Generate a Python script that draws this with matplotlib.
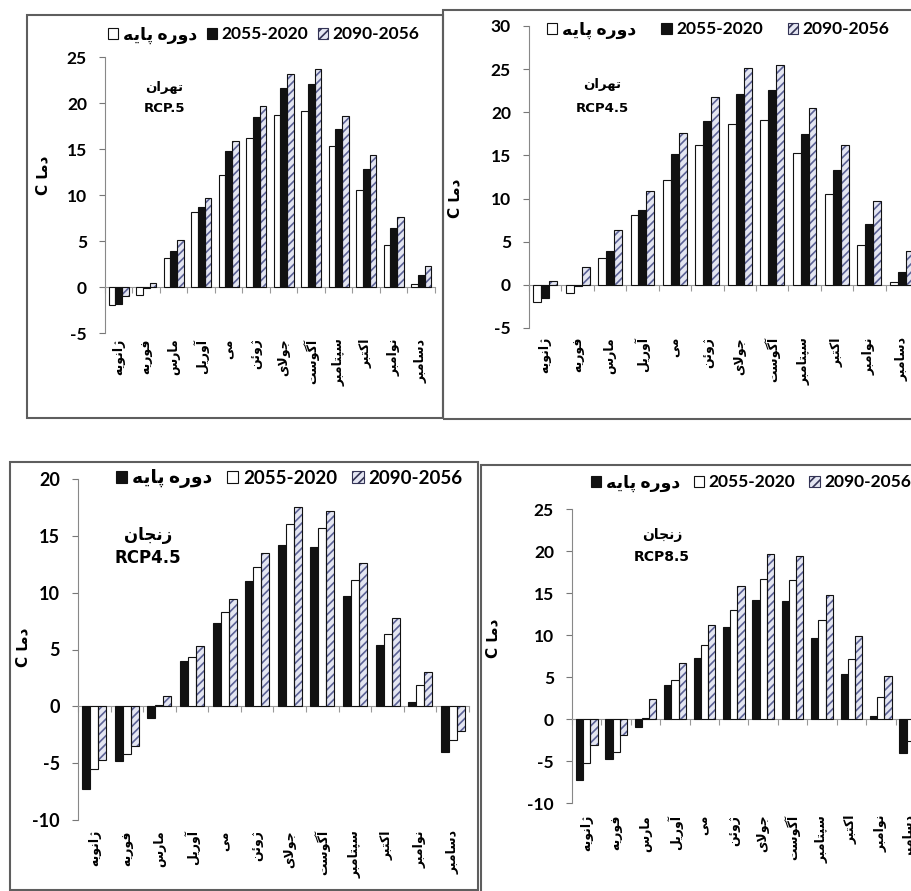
import numpy as np
import matplotlib
matplotlib.use("Agg")
import matplotlib.pyplot as plt
from matplotlib.patches import Patch, Rectangle

plt.rcParams['font.family'] = ['Lato', 'DejaVu Sans']
plt.rcParams['font.weight'] = 'bold'
plt.rcParams['hatch.linewidth'] = 1.2
plt.rcParams['axes.unicode_minus'] = False

# ---- data (monthly mean temperature, deg C) ----
months_fa = ['ژانویه', 'فوریه', 'مارس', 'آوریل', 'می', 'ژوئن',
             'جولای', 'آگوست', 'سپتامبر', 'اکتبر', 'نوامبر', 'دسامبر']
period_labels = ['دوره پایه', '2055-2020', '2090-2056']

tehran_base = [-2.0, -0.9, 3.1, 8.1, 12.2, 16.2, 18.7, 19.1, 15.3, 10.5, 4.6, 0.3]
tehran_rcp26_mid = [-1.9, -0.1, 3.9, 8.7, 14.8, 18.5, 21.6, 22.1, 17.2, 12.8, 6.4, 1.3]
tehran_rcp26_end = [-1.0, 0.4, 5.1, 9.7, 15.9, 19.7, 23.2, 23.7, 18.6, 14.3, 7.6, 2.3]
tehran_rcp45_mid = [-1.5, -0.1, 3.9, 8.7, 15.2, 19.0, 22.1, 22.6, 17.5, 13.3, 7.1, 1.5]
tehran_rcp45_end = [0.5, 2.1, 6.4, 10.9, 17.6, 21.8, 25.1, 25.5, 20.5, 16.2, 9.7, 3.9]

zanjan_base = [-7.3, -4.8, -1.0, 4.0, 7.3, 11.0, 14.2, 14.0, 9.7, 5.4, 0.4, -4.0]
zanjan_rcp45_mid = [-5.5, -4.2, 0.1, 4.3, 8.3, 12.3, 16.0, 15.7, 11.1, 6.4, 1.9, -3.0]
zanjan_rcp45_end = [-4.7, -3.5, 0.9, 5.3, 9.4, 13.5, 17.5, 17.2, 12.6, 7.8, 3.0, -2.2]
zanjan_rcp85_mid = [-5.2, -3.9, 0.1, 4.6, 8.8, 13.0, 16.7, 16.6, 11.8, 7.2, 2.6, -2.6]
zanjan_rcp85_end = [-3.1, -1.9, 2.4, 6.7, 11.2, 15.8, 19.6, 19.4, 14.8, 9.9, 5.1, -1.6]


# ---- persian shaping (matplotlib has no bidi / joining) ----
FORMS = {  # isolated, final, initial, medial
    'ا': ('\uFE8D', '\uFE8E', None, None),
    'آ': ('\uFE81', '\uFE82', None, None),
    'ب': ('\uFE8F', '\uFE90', '\uFE91', '\uFE92'),
    'پ': ('\uFB56', '\uFB57', '\uFB58', '\uFB59'),
    'ت': ('\uFE95', '\uFE96', '\uFE97', '\uFE98'),
    'ج': ('\uFE9D', '\uFE9E', '\uFE9F', '\uFEA0'),
    'د': ('\uFEA9', '\uFEAA', None, None),
    'ر': ('\uFEAD', '\uFEAE', None, None),
    'ز': ('\uFEAF', '\uFEB0', None, None),
    'ژ': ('\uFB8A', '\uFB8B', None, None),
    'س': ('\uFEB1', '\uFEB2', '\uFEB3', '\uFEB4'),
    'ف': ('\uFED1', '\uFED2', '\uFED3', '\uFED4'),
    'ک': ('\uFB8E', '\uFB8F', '\uFB90', '\uFB91'),
    'گ': ('\uFB92', '\uFB93', '\uFB94', '\uFB95'),
    'ل': ('\uFEDD', '\uFEDE', '\uFEDF', '\uFEE0'),
    'م': ('\uFEE1', '\uFEE2', '\uFEE3', '\uFEE4'),
    'ن': ('\uFEE5', '\uFEE6', '\uFEE7', '\uFEE8'),
    'ه': ('\uFEE9', '\uFEEA', '\uFEEB', '\uFEEC'),
    'و': ('\uFEED', '\uFEEE', None, None),
    'ی': ('\uFBFC', '\uFBFD', '\uFBFE', '\uFBFF'),
    'ئ': ('\uFE89', '\uFE8A', '\uFE8B', '\uFE8C'),
}
LAM_ALEF = ('\uFEFB', '\uFEFC')


def fa(s):
    if not any(c in FORMS for c in s):
        return s
    out = []
    prev_joins = False
    i = 0
    while i < len(s):
        c = s[i]
        if c not in FORMS:
            out.append(c)
            prev_joins = False
            i += 1
            continue
        if c == 'ل' and i + 1 < len(s) and s[i + 1] == 'ا':
            out.append(LAM_ALEF[1] if prev_joins else LAM_ALEF[0])
            prev_joins = False
            i += 2
            continue
        nxt = s[i + 1] if i + 1 < len(s) else None
        next_ok = FORMS[c][2] is not None and nxt in FORMS
        iso, fin, ini, med = FORMS[c]
        if prev_joins and next_ok:
            out.append(med)
        elif prev_joins:
            out.append(fin)
        elif next_ok:
            out.append(ini)
        else:
            out.append(iso)
        prev_joins = next_ok
        i += 1
    return ''.join(reversed(out))


W, H = 912, 891
fig = plt.figure(figsize=(W / 100, H / 100), dpi=100)
fig.patch.set_facecolor('white')


def px_axes(left, top, right, bottom):
    return fig.add_axes([left / W, 1 - bottom / H, (right - left) / W, (bottom - top) / H])


def frame(x0, y0, x1, y1):
    fig.patches.append(Rectangle((x0 / W, 1 - y1 / H), (x1 - x0) / W, (y1 - y0) / H,
                                 transform=fig.transFigure, fill=False,
                                 edgecolor='#5e5e5e', linewidth=1.5))


WHITE = dict(facecolor='white', edgecolor='#111111', linewidth=0.8)
BLACK = dict(facecolor='#111111', edgecolor='#111111', linewidth=0.8)
HATCH = dict(facecolor='#e4e6f2', edgecolor='#5c6296', linewidth=0, hatch='////')


def panel(box, series, styles, ylim, ystep, city, rcp, txt_pos, txt_size,
          ylab_pos, leg_anchor, leg_colsp, leg_size, tick_size, lab_off):
    ax = px_axes(*box)
    x = np.arange(len(months_fa))
    bw = 0.245
    for k, (vals, st) in enumerate(zip(series, styles)):
        pos = x + (k - 1) * bw
        if st is HATCH:
            ax.bar(pos, vals, bw, **HATCH, zorder=2)
            ax.bar(pos, vals, bw, fill=False, edgecolor='#111111', linewidth=0.8, zorder=3)
        else:
            ax.bar(pos, vals, bw, **st, zorder=3)
    ax.set_xlim(-0.5, len(months_fa) - 0.5)
    ax.set_ylim(*ylim)
    ax.set_yticks(np.arange(ylim[0], ylim[1] + 0.1, ystep))
    ax.tick_params(axis='y', direction='out', length=4, width=0.8, color='#777777',
                   labelsize=tick_size, pad=9)
    for t in ax.get_yticklabels():
        t.set_fontweight('bold')
    ax.set_xticks(np.arange(-0.5, len(months_fa), 1.0))
    ax.set_xticklabels([])
    ax.tick_params(axis='x', direction='out', length=4, width=0.8, color='#999999')
    for s in ('top', 'right'):
        ax.spines[s].set_visible(False)
    ax.spines['bottom'].set_position(('data', 0))
    ax.spines['bottom'].set_color('#999999')
    ax.spines['left'].set_color('#888888')
    ax.patch.set_alpha(0)

    for i, m in enumerate(months_fa):
        ax.text(i, -lab_off, fa(m), rotation=90, ha='center', va='top',
                fontsize=9, family='DejaVu Sans', fontweight='bold',
                transform=ax.get_xaxis_transform())

    ax.set_ylabel('C ' + fa('دما'), fontsize=11, fontweight='bold', family='DejaVu Sans')
    ax.yaxis.set_label_coords(*ylab_pos)

    ax.text(txt_pos[0], txt_pos[1], fa(city), transform=ax.transAxes, ha='center',
            va='center', fontsize=txt_size, family='DejaVu Sans')
    ax.text(txt_pos[0], txt_pos[2], rcp, transform=ax.transAxes, ha='center',
            va='center', fontsize=txt_size, fontweight='bold', family='DejaVu Sans')

    handles = []
    for lab, st in zip(period_labels, styles):
        if st is HATCH:
            handles.append(Patch(facecolor=HATCH['facecolor'], edgecolor='#333355',
                                 hatch='////', linewidth=0.8, label=fa(lab)))
        else:
            handles.append(Patch(facecolor=st['facecolor'], edgecolor='#111111',
                                 linewidth=0.8, label=fa(lab)))
    fig.legend(handles=handles, loc='center left',
               bbox_to_anchor=(leg_anchor[0] / W, 1 - leg_anchor[1] / H),
               ncol=3, frameon=False, handlelength=0.6, handleheight=0.6,
               handletextpad=0.25, columnspacing=leg_colsp, borderpad=0, borderaxespad=0,
               prop=dict(family=['Lato', 'DejaVu Sans'], weight='bold', size=leg_size))
    return ax


# panel frames
frame(27, 15, 443, 418)
frame(443, 10, 940, 419)
frame(10, 462, 478, 890)
frame(481, 465, 940, 900)

# Tehran RCP2.6
panel((105, 57, 435, 333), [tehran_base, tehran_rcp26_mid, tehran_rcp26_end],
      [WHITE, BLACK, HATCH], (-5, 25), 5, 'تهران', 'RCP.5',
      (0.18, 0.888, 0.815), 9.5, (-0.165, 0.57), (108, 35), 0.55, 12.5, 12.5, 0.02)

# Tehran RCP4.5
panel((529, 26, 918, 328), [tehran_base, tehran_rcp45_mid, tehran_rcp45_end],
      [WHITE, BLACK, HATCH], (-5, 30), 5, 'تهران', 'RCP4.5',
      (0.188, 0.805, 0.728), 9.5, (-0.17, 0.43), (547, 30), 1.45, 12.5, 12.5, 0.03)

# Zanjan RCP4.5
panel((78, 479, 469, 820), [zanjan_base, zanjan_rcp45_mid, zanjan_rcp45_end],
      [BLACK, WHITE, HATCH], (-10, 20), 5, 'زنجان', 'RCP4.5',
      (0.179, 0.836, 0.768), 12, (-0.123, 0.507), (116, 479), 0.8, 13.5, 13, 0.03)

# Zanjan RCP8.5
panel((572, 509, 925, 803), [zanjan_base, zanjan_rcp85_mid, zanjan_rcp85_end],
      [BLACK, WHITE, HATCH], (-10, 25), 5, 'زنجان', 'RCP8.5',
      (0.255, 0.912, 0.837), 10, (-0.204, 0.56), (591, 483), 0.8, 12.5, 12.5, 0.04)

fig.savefig('out.png', dpi=100)
